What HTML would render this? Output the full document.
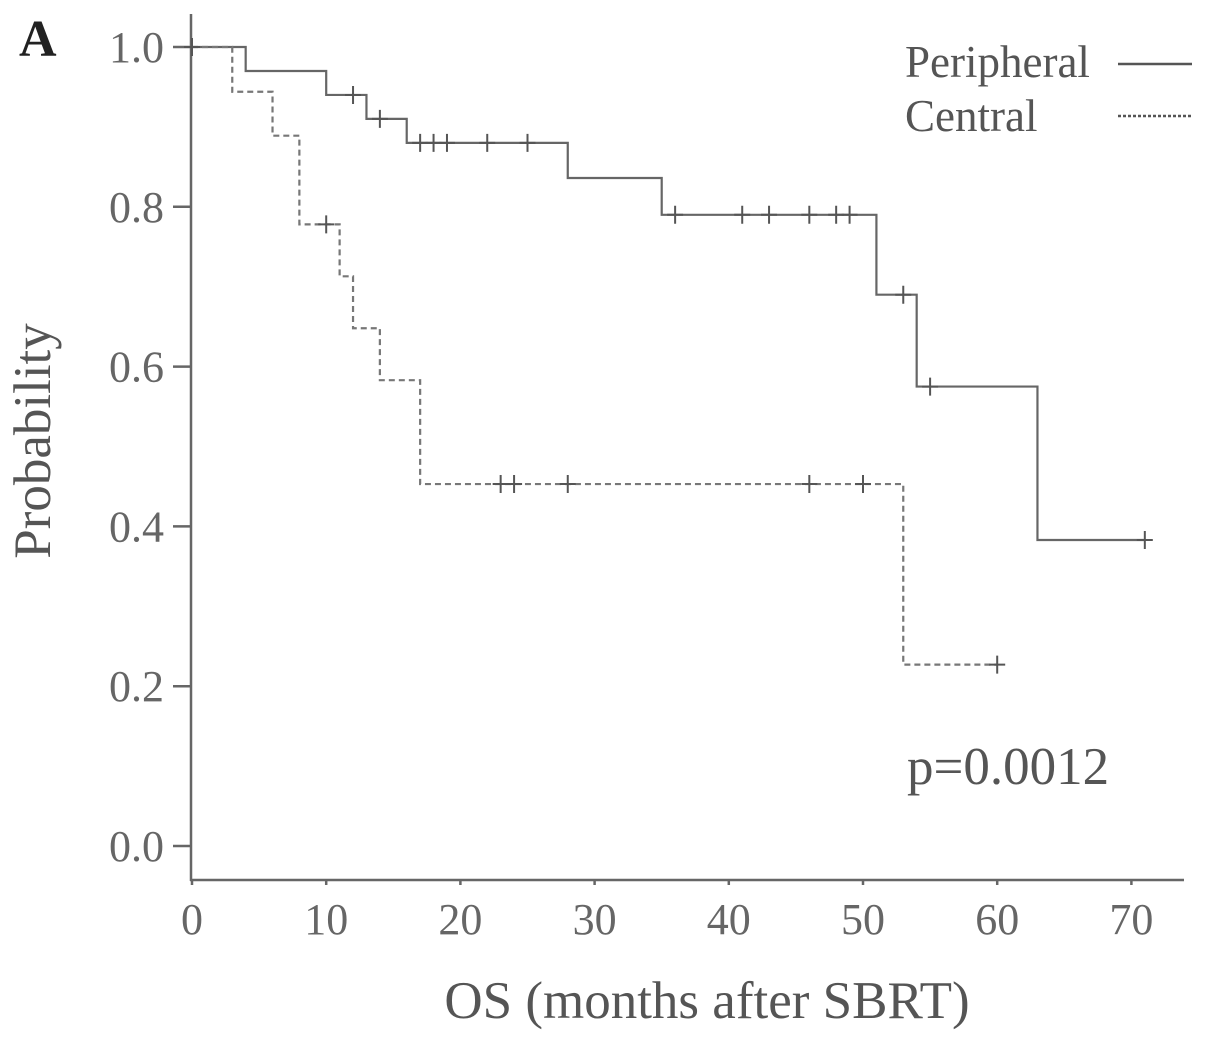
<!DOCTYPE html>
<html><head><meta charset="utf-8">
<style>
html,body{margin:0;padding:0;background:#fff;}
svg{display:block;font-family:"Liberation Serif",serif;}
</style></head>
<body>
<svg id="chart" width="1205" height="1041" viewBox="0 0 1205 1041">
<text x="19" y="56" font-size="52" font-weight="bold" fill="#222">A</text>
<g id="axes"></g>
<g id="series"></g>
<text x="38" y="441" font-size="53" fill="#555" text-anchor="middle" transform="rotate(-90 38 441)" dominant-baseline="middle">Probability</text>
<text x="707" y="1018" font-size="53" fill="#555" text-anchor="middle">OS (months after SBRT)</text>
<text x="907" y="784" font-size="53" fill="#555">p=0.0012</text>
<g>
<text x="905" y="77" font-size="45" fill="#555">Peripheral</text>
<line x1="1118" y1="64" x2="1192" y2="64" stroke="#555" stroke-width="2.5"/>
<text x="905" y="131" font-size="45" fill="#555">Central</text>
<line x1="1118" y1="116" x2="1192" y2="116" stroke="#555" stroke-width="2.5" stroke-dasharray="3,2"/>
</g>
</svg>
<script>
const xTicks=[0,10,20,30,40,50,60,70];
const yTicks=[0.0,0.2,0.4,0.6,0.8,1.0];
const yTickLabels=["0.0","0.2","0.4","0.6","0.8","1.0"];
const periTimes=[0,4,10,13,16,28,35,51,54,63,71];
const periSurv=[1.0,0.97,0.94,0.91,0.88,0.836,0.79,0.69,0.575,0.383,0.383];
const periCensT=[0,12,14,17,18,19,22,25,36,41,43,46,48,49,53,55,71];
const periCensS=[1.0,0.94,0.91,0.88,0.88,0.88,0.88,0.88,0.79,0.79,0.79,0.79,0.79,0.79,0.69,0.575,0.383];
const centTimes=[0,3,6,8,11,12,14,17,53,60];
const centSurv=[1.0,0.944,0.889,0.778,0.713,0.648,0.583,0.453,0.227,0.227];
const centCensT=[10,23,24,28,46,50,60];
const centCensS=[0.778,0.453,0.453,0.453,0.453,0.453,0.227];

const NS="http://www.w3.org/2000/svg";
const X=v=>192+v*13.42;
const Y=v=>846-v*799;
function mk(tag,attrs,parent){const e=document.createElementNS(NS,tag);for(const k in attrs)e.setAttribute(k,attrs[k]);parent.appendChild(e);return e;}
const axes=document.getElementById('axes');
const ser=document.getElementById('series');
const c="#666";
let a=mk('line',{x1:191,y1:14,x2:191,y2:881,stroke:c,'stroke-width':2.5},axes);


a=mk('line',{x1:190,y1:880,x2:1184,y2:880,stroke:c,'stroke-width':2.5},axes);


yTicks.forEach((v,i)=>{
  const t=mk('line',{x1:173,y1:Y(v),x2:191,y2:Y(v),stroke:c,'stroke-width':2.5},axes);
  
  
  const l=mk('text',{x:164,y:Y(v)+15,'font-size':44,fill:'#666','text-anchor':'end'},axes);
  l.textContent=yTickLabels[i];
  
  
});
xTicks.forEach(v=>{
  const t=mk('line',{x1:X(v),y1:880,x2:X(v),y2:885,stroke:c,'stroke-width':2.5},axes);
  
  
  const l=mk('text',{x:X(v),y:934,'font-size':44,fill:'#666','text-anchor':'middle'},axes);
  l.textContent=String(v);
  
  
});
function stepPath(ts,ss){let d=`M${X(ts[0])},${Y(ss[0])}`;for(let i=1;i<ts.length;i++){d+=` H${X(ts[i])} V${Y(ss[i])}`;}return d;}
let p=mk('path',{d:stepPath(periTimes,periSurv),fill:'none',stroke:'#666','stroke-width':2.2},ser);


p=mk('path',{d:stepPath(centTimes,centSurv),fill:'none',stroke:'#777','stroke-width':2.2,'stroke-dasharray':'6,4'},ser);


function cens(ts,ss,name){ts.forEach((t,i)=>{
  const g=mk('path',{d:`M${X(t)-8},${Y(ss[i])} H${X(t)+8} M${X(t)},${Y(ss[i])-9} V${Y(ss[i])+9}`,stroke:'#555','stroke-width':2,fill:'none'},ser);
  
  
});}
cens(periCensT,periCensS,'peripheral-censor-mark');
cens(centCensT,centCensS,'central-censor-mark');
</script>
</body></html>
